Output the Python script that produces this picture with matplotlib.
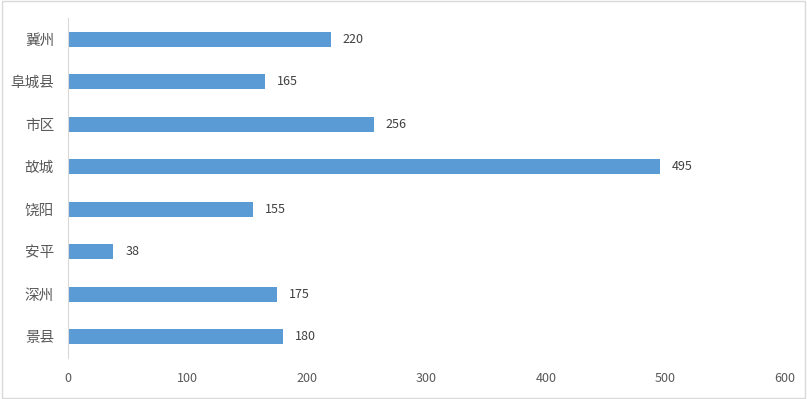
import matplotlib.pyplot as plt
from matplotlib.patches import Rectangle

plt.rcParams['font.family'] = ['Noto Sans CJK SC', 'DejaVu Sans']

# categories top to bottom
regions = ['冀州', '阜城县', '市区', '故城', '饶阳', '安平', '深州', '景县']
counts = [220, 165, 256, 495, 155, 38, 175, 180]
xticks = [0, 100, 200, 300, 400, 500, 600]

fig = plt.figure(figsize=(8.07, 3.99), dpi=100)
ax = fig.add_axes([68 / 807, 41 / 399, 717 / 807, 340 / 399])

ypos = list(range(len(regions)))[::-1]
ax.barh(ypos, counts, height=0.35, color='#5B9BD5')

for y, v in zip(ypos, counts):
    ax.text(v + 10, y, str(v), va='center', ha='left', fontsize=9, color='#404040')

ax.set_xlim(0, 600)
ax.set_ylim(-0.5, len(regions) - 0.5)
ax.set_xticks(xticks)
ax.set_xticklabels([str(t) for t in xticks], fontsize=9, color='#595959')
ax.set_yticks(ypos)
ax.set_yticklabels(regions, fontsize=10.5, color='#595959')
ax.tick_params(axis='both', length=0)
ax.tick_params(axis='x', pad=10)
ax.tick_params(axis='y', pad=10)

for side in ['top', 'right', 'bottom']:
    ax.spines[side].set_visible(False)
ax.spines['left'].set_color('#d9d9d9')

# outer border
fig.patches.append(Rectangle((0.002, 0.003), 0.996, 0.994, transform=fig.transFigure,
                             fill=False, edgecolor='#d9d9d9', linewidth=1))

fig.savefig('out.png', dpi=100)
